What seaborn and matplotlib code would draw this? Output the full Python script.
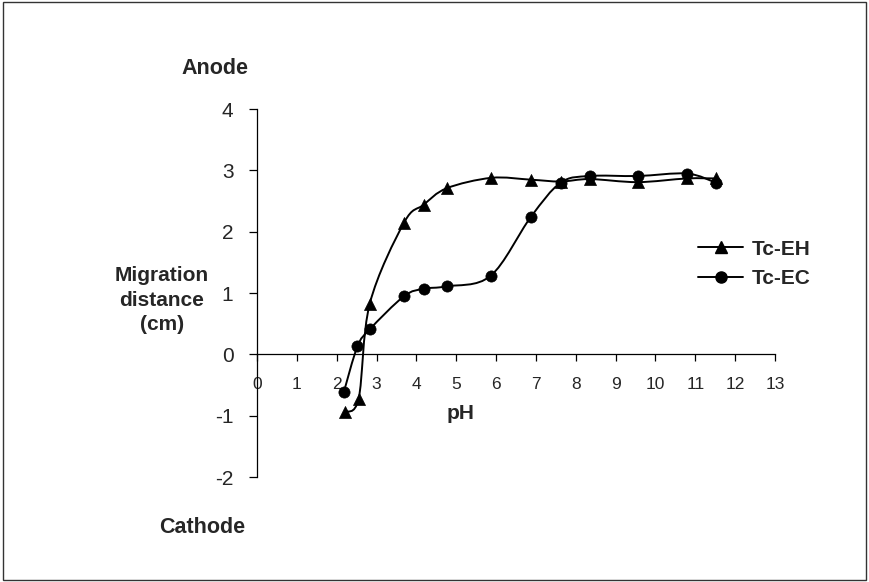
import numpy as np
import pandas as pd
import seaborn as sns
import matplotlib.pyplot as plt
from matplotlib.path import Path
from matplotlib.patches import PathPatch, Rectangle
from matplotlib.lines import Line2D

# pH values and migration distances (cm)
ph_eh = [2.2, 2.55, 2.83, 3.69, 4.18, 4.76, 5.88, 6.87, 7.62, 8.35, 9.55, 10.79, 11.52]
dist_eh = [-0.94, -0.72, 0.83, 2.15, 2.44, 2.71, 2.88, 2.85, 2.82, 2.86, 2.81, 2.87, 2.87]

ph_ec = [2.18, 2.52, 2.83, 3.69, 4.18, 4.76, 5.86, 6.87, 7.62, 8.35, 9.55, 10.79, 11.52]
dist_ec = [-0.61, 0.13, 0.41, 0.95, 1.07, 1.11, 1.28, 2.24, 2.80, 2.91, 2.91, 2.95, 2.80]

series = ["Tc-EH", "Tc-EC"]
x_ticks = list(range(0, 14))
y_ticks = [-2, -1, 0, 1, 2, 3, 4]

df = pd.concat([
    pd.DataFrame({"pH": ph_eh, "dist": dist_eh, "series": series[0]}),
    pd.DataFrame({"pH": ph_ec, "dist": dist_ec, "series": series[1]}),
])

sns.set_theme(style="white")
plt.rcParams["font.family"] = ["Liberation Sans", "DejaVu Sans"]
plt.rcParams["axes.unicode_minus"] = False


def smooth_path(xs, ys):
    """Excel-style smoothed line: cubic Bezier segments (Catmull-Rom, 1/6 tension)."""
    pts = np.column_stack([xs, ys])
    n = len(pts)
    verts = [pts[0]]
    codes = [Path.MOVETO]
    for i in range(n - 1):
        p0 = pts[i - 1] if i > 0 else pts[i]
        p1 = pts[i]
        p2 = pts[i + 1]
        p3 = pts[i + 2] if i + 2 < n else pts[i + 1]
        c1 = p1 + (p2 - p0) / 6.0
        c2 = p2 - (p3 - p1) / 6.0
        verts += [c1, c2, p2]
        codes += [Path.CURVE4] * 3
    return Path(verts, codes)


fig = plt.figure(figsize=(8.69, 5.82), dpi=100)
ax = fig.add_axes([0.2958, 0.1804, 0.596, 0.632])

markers = {"Tc-EH": "^", "Tc-EC": "o"}
sizes = {"Tc-EH": 75, "Tc-EC": 65}
for name, xs, ys in [(series[0], ph_eh, dist_eh), (series[1], ph_ec, dist_ec)]:
    ax.add_patch(PathPatch(smooth_path(xs, ys), fill=False, edgecolor="black",
                           lw=1.4, zorder=2))
    sub = df[df["series"] == name]
    sns.scatterplot(data=sub, x="pH", y="dist", marker=markers[name],
                    s=sizes[name], color="black", edgecolor="black",
                    linewidth=0.5, ax=ax, zorder=3, legend=False)

ax.set_xlim(0, 13)
ax.set_ylim(-2, 4)
ax.set_xticks(x_ticks)
ax.set_yticks(y_ticks)
ax.set_xlabel("")
ax.set_ylabel("")

ax.spines["top"].set_visible(False)
ax.spines["right"].set_visible(False)
ax.spines["bottom"].set_position(("data", 0))
for sp in ("left", "bottom"):
    ax.spines[sp].set_color("black")
    ax.spines[sp].set_linewidth(0.9)

ax.tick_params(axis="x", direction="out", length=5, width=0.9, color="black",
               labelsize=12.5, pad=11, bottom=True)
ax.tick_params(axis="y", direction="out", length=6, width=0.9, color="black",
               labelsize=15, pad=11, left=True)

handles = [
    Line2D([], [], color="black", lw=1.4, marker="^", markersize=8.5),
    Line2D([], [], color="black", lw=1.4, marker="o", markersize=8),
]
ax.legend(handles, series, loc="upper left", bbox_to_anchor=(0.852, 0.645),
          frameon=False, handlelength=2.15, handletextpad=0.4,
          labelspacing=0.5, borderpad=0, borderaxespad=0,
          prop={"weight": "bold", "size": 15})

fig.text(0.186, 0.4845, "Migration\ndistance\n(cm)", ha="center", va="center",
         fontsize=15, fontweight="bold", linespacing=1.35)
fig.text(0.247, 0.882, "Anode", ha="center", va="center", fontsize=15.5,
         fontweight="bold")
fig.text(0.2325, 0.094, "Cathode", ha="center", va="center", fontsize=15.5,
         fontweight="bold")
fig.text(0.53, 0.29, "pH", ha="center", va="center", fontsize=15,
         fontweight="bold")

fig.patches.append(Rectangle((0.004, 0.004), 0.992, 0.992, transform=fig.transFigure,
                             fill=False, edgecolor="#333333", lw=1.0))

fig.savefig("out.png", dpi=100)
